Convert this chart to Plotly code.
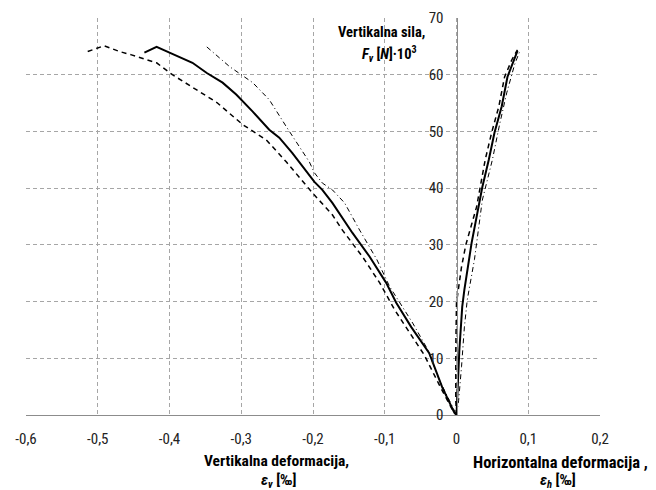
import plotly.graph_objects as go

# ---- data ----
# Left side: vertical deformation (negative), force F_v [N]*10^3
vert_solid_x = [-0.435, -0.418, -0.400, -0.368, -0.348, -0.326, -0.307, -0.284, -0.261, -0.247, -0.229,
                -0.215, -0.198, -0.187, -0.173, -0.145, -0.121, -0.098, -0.084, -0.063, -0.038, -0.020,
                -0.010, -0.003, 0.0]
vert_solid_y = [63.9, 64.9, 63.9, 62.1, 60.3, 58.6, 56.5, 53.5, 50.3, 48.9, 46.2,
                43.8, 41.1, 39.7, 37.4, 32.1, 27.9, 23.3, 19.8, 15.5, 10.9, 4.9,
                2.1, 0.4, 0.0]

vert_dash_x = [-0.514, -0.491, -0.470, -0.453, -0.418, -0.396, -0.358, -0.334, -0.298, -0.265, -0.237,
               -0.219, -0.201, -0.173, -0.159, -0.131, -0.107, -0.086, -0.070, -0.045, -0.024, -0.017,
               -0.007, 0.0]
vert_dash_y = [64.1, 65.1, 64.1, 63.5, 62.1, 60.0, 57.0, 55.1, 51.2, 48.5, 44.6,
               41.8, 39.2, 35.3, 32.6, 27.9, 23.3, 18.5, 15.4, 10.6, 5.3, 3.5,
               1.2, 0.0]

vert_dashdot_x = [-0.348, -0.316, -0.284, -0.261, -0.237, -0.219, -0.205, -0.198, -0.187, -0.173, -0.156,
                  -0.135, -0.111, -0.093, -0.079, -0.061, -0.040, -0.024, -0.010, 0.0]
vert_dashdot_y = [64.9, 61.4, 58.6, 55.6, 50.8, 47.3, 44.6, 42.7, 40.9, 39.7, 37.4,
                  32.6, 27.4, 22.6, 19.8, 16.2, 11.5, 6.2, 2.6, 0.0]

# Right side: horizontal deformation (positive)
hor_solid_x = [0.0, 0.001, 0.004, 0.008, 0.011, 0.021, 0.031, 0.036, 0.045, 0.053, 0.063, 0.071, 0.085]
hor_solid_y = [0.0, 2.6, 11.5, 19.1, 22.1, 30.3, 36.7, 40.2, 45.0, 49.8, 54.4, 59.6, 64.2]

hor_dash_x = [0.0, -0.001, -0.001, 0.0, 0.007, 0.013, 0.028, 0.040, 0.049, 0.059, 0.067, 0.077, 0.085]
hor_dash_y = [0.0, 2.6, 11.5, 19.8, 26.1, 30.0, 36.7, 45.0, 49.8, 54.4, 59.6, 62.6, 64.4]

hor_dashdot_x = [0.0, 0.003, 0.007, 0.011, 0.015, 0.025, 0.036, 0.050, 0.060, 0.070, 0.081, 0.088]
hor_dashdot_y = [0.0, 2.6, 8.5, 15.5, 20.3, 27.4, 37.9, 45.0, 51.2, 56.8, 61.8, 64.1]

x_tick_vals = [-0.6, -0.5, -0.4, -0.3, -0.2, -0.1, 0.0, 0.1, 0.2]
x_tick_text = ["-0,6", "-0,5", "-0,4", "-0,3", "-0,2", "-0,1", "0", "0,1", "0,2"]
y_tick_vals = [0, 10, 20, 30, 40, 50, 60, 70]
y_tick_text = ["0", "10", "20", "30", "40", "50", "60", "70"]

NARROW = "Liberation Sans Narrow, Arial Narrow, Roboto Condensed, Liberation Sans, sans-serif"

fig = go.Figure()

def add(x, y, dash, width):
    fig.add_trace(go.Scatter(x=x, y=y, mode="lines",
                             line=dict(color="black", width=width, dash=dash),
                             showlegend=False, hoverinfo="skip"))

add(vert_dash_x, vert_dash_y, "5px,4px", 1.5)
add(vert_dashdot_x, vert_dashdot_y, "5px,3px,1px,3px", 1)
add(vert_solid_x, vert_solid_y, "solid", 2)
add(hor_dash_x, hor_dash_y, "5px,4px", 1.5)
add(hor_dashdot_x, hor_dashdot_y, "5px,3px,1px,3px", 1)
add(hor_solid_x, hor_solid_y, "solid", 2)

W, H = 656, 490
ml, mr, mt, mb = 26, 56, 18, 75
pw, ph = W - ml - mr, H - mt - mb

def px(xp):
    return (xp - ml) / pw

def py(yp):
    return (H - mb - yp) / ph

def tf(size):
    return dict(family=NARROW, size=size, color="black")

annos = [
    dict(text="<b>Vertikalna sila,</b>", x=px(381), y=py(32), font=tf(14.5)),
    dict(text="<b><i>F</i><sub><i>v</i></sub> [<i>N</i>]·10<sup>3</sup></b>", x=px(389), y=py(54), font=tf(14.5)),
    dict(text="<b>Vertikalna deformacija,</b>", x=px(276), y=py(461), font=tf(15.5)),
    dict(text="<b><i>ε</i><sub><i>v</i></sub> [‰]</b>", x=px(278), y=py(481), font=tf(15)),
    dict(text="<b>Horizontalna deformacija ,</b>", x=px(560), y=py(462), font=tf(16.5)),
    dict(text="<b><i>ε</i><sub><i>h</i></sub> [‰]</b>", x=px(558), y=py(481), font=tf(15)),
]
for a in annos:
    a.update(xref="paper", yref="paper", showarrow=False, xanchor="center", yanchor="middle")

fig.update_layout(
    width=W, height=H,
    margin=dict(l=ml, r=mr, t=mt, b=mb, autoexpand=False),
    plot_bgcolor="white", paper_bgcolor="white",
    annotations=annos,
    xaxis=dict(range=[-0.6, 0.2], tickvals=x_tick_vals, ticktext=x_tick_text, automargin=False,
               showgrid=True, gridcolor="#a6a6a6", griddash="4px,3px", gridwidth=1,
               showline=True, linecolor="#8c8c8c", linewidth=1, zeroline=False,
               ticks="", ticklabelstandoff=10,
               tickfont=dict(family=NARROW, size=15, color="#222")),
    yaxis=dict(range=[0, 70], tickvals=y_tick_vals, ticktext=y_tick_text, automargin=False,
               anchor="free", position=0.75,
               showgrid=True, gridcolor="#a6a6a6", griddash="4px,3px", gridwidth=1,
               showline=True, linecolor="#8c8c8c", linewidth=1, zeroline=False,
               ticks="", ticklabelstandoff=10,
               tickfont=dict(family=NARROW, size=15, color="#222")),
)

fig.write_html("out.html",
               config={"displayModeBar": False, "staticPlot": True},
               post_script="document.body.style.margin='0';document.body.style.overflow='hidden';")
